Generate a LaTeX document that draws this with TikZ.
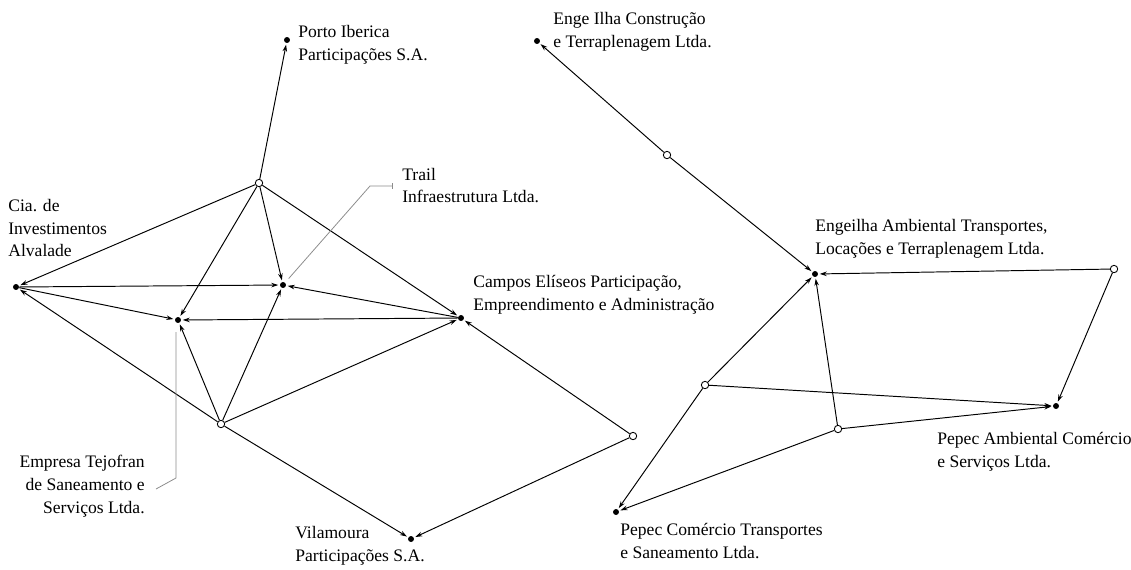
\documentclass[tikz,border=0pt]{standalone}
\usepackage{fontspec}
\setmainfont{Liberation Serif}
\usetikzlibrary{arrows.meta}

\begin{document}
\begin{tikzpicture}[x=0.02cm,y=-0.02cm,
    firm/.style={circle,fill=black,inner sep=0pt,minimum size=3.4pt},
    hub/.style={circle,draw=black,fill=white,line width=0.5pt,inner sep=0pt,minimum size=4.2pt},
    link/.style={line width=0.55pt,-{Stealth[length=4pt,width=2.6pt]},shorten >=0.8pt},
    callout/.style={draw=black!45,line width=0.45pt},
    lbl/.style={inner sep=0pt,font=\fontsize{10}{13}\selectfont}]

    \useasboundingbox (0,0) rectangle (1131,569);

    % left group
    \node[firm] (PI) at (287,40) {};   \node[hub] (T) at (259,183) {};
    \node[firm] (C) at (16,287) {};    \node[firm] (TR) at (283,285) {};
    \node[firm] (E) at (178,320) {};   \node[firm] (CE) at (461,318) {};
    \node[hub] (B) at (221,424) {};    \node[hub] (R) at (633,436) {};
    \node[firm] (V) at (411,539) {};

    % right group
    \node[firm] (EI) at (537,41) {};   \node[hub] (H1) at (667,155) {};
    \node[firm] (EA) at (815,274) {};  \node[hub] (H2) at (1114,269) {};
    \node[firm] (PA) at (1056,406) {}; \node[hub] (H3) at (705,385) {};
    \node[hub] (H4) at (838,429) {};   \node[firm] (PC) at (616,512) {};

    \foreach \a/\b in {T/PI,T/C,T/TR,T/E,T/CE,C/TR,C/E,CE/TR,CE/E,B/E,B/TR,B/CE,B/C,B/V,R/CE,R/V,
        H1/EI,H1/EA,H2/EA,H2/PA,H3/EA,H3/PA,H3/PC,H4/EA,H4/PA,H4/PC}
        \draw[link] (\a) -- (\b);

    % callouts
    \coordinate (trbend) at (370,186); \coordinate (trend) at (393,186);
    \draw[callout,shorten <=3pt,-{Bar[width=3pt,line width=0.45pt]}] (TR) -- (trbend) -- (trend);
    \coordinate (ebend) at (176,478); \coordinate (eend) at (156,489);
    \draw[callout,shorten <=5pt] (E.south) ++(-2,0) -- (ebend) -- (eend);

    % labels
    \node[lbl,anchor=west,align=left] (PIl) at (298,45) {Porto Iberica\\Participações S.A.};
    \node[lbl,anchor=west,align=left] (EIl) at (553,31.5) {Enge Ilha Construção\\e Terraplenagem Ltda.};
    \node[lbl,anchor=west,align=left] (Cl) at (8,228) {Cia. de\\Investimentos\\Alvalade};
    \node[lbl,anchor=west,align=left] (TRl) at (402,185.5) {Trail\\Infraestrutura Ltda.};
    \node[lbl,anchor=west,align=left] (CEl) at (473,294.5) {Campos Elíseos Participação,\\Empreendimento e Administração};
    \node[lbl,anchor=west,align=left] (EAl) at (815,238.5) {Engeilha Ambiental Transportes,\\Locações e Terraplenagem Ltda.};
    \node[lbl,anchor=west,align=left] (PAl) at (937,452) {Pepec Ambiental Comércio\\e Serviços Ltda.};
    \node[lbl,anchor=west,align=left] (PCl) at (620,541) {Pepec Comércio Transportes\\e Saneamento Ltda.};
    \node[lbl,anchor=west,align=left] (Vl) at (295,546) {Vilamoura\\Participações S.A.};
    \node[lbl,anchor=east,align=right] (El) at (145,486) {Empresa Tejofran\\de Saneamento e\\Serviços Ltda.};

\end{tikzpicture}
\end{document}
